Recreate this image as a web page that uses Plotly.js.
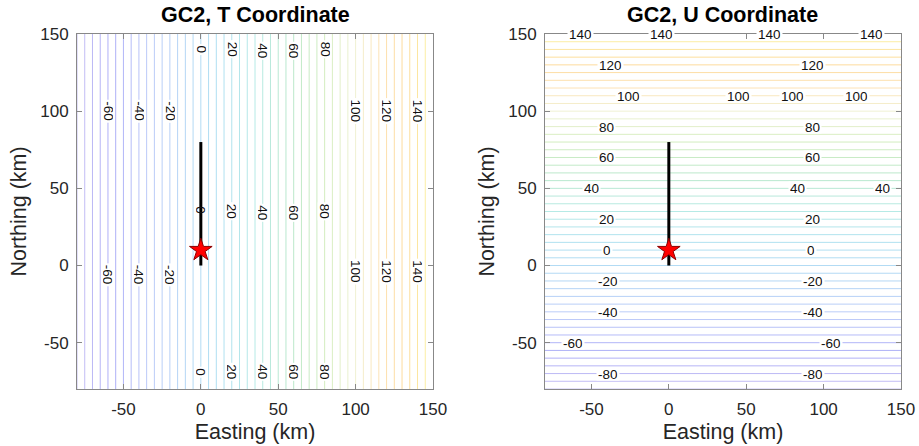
<!DOCTYPE html>
<html>
<head>
<meta charset="utf-8">
<script src="https://cdn.plot.ly/plotly-3.0.1.min.js"></script>
<style>html,body{margin:0;padding:0;background:#fff;} #chart{width:919px;height:446px;}</style>
</head>
<body>
<div id="chart"></div>
<script>
// ---- data ----
const gridEasting = [-80, 150];
const gridNorthing = [-80, 150];
// GC2 T coordinate (equals easting for this N-S trace)
const tCoordinate = [[-80, 150], [-80, 150]];
// GC2 U coordinate (northing measured from the hypocentre at 10 km)
const uCoordinate = [[-90, -90], [140, 140]];
const tLevelRange = [-80, 150, 5];
const uLevelRange = [-90, 140, 5];

const ruptureEasting = [0, 0];
const ruptureNorthing = [0, 80];
const hypoEasting = [0];
const hypoNorthing = [10];

// contour labels
const tLabelText     = [0, 20, 40, 60, 80, -60, -40, -20, 100, 120, 140, 0, 20, 40, 60, 80, -60, -40, -20, 100, 120, 140, 0, 20, 40, 60, 80];
const tLabelNorthing = [140, 140, 139, 139, 140, 100, 100, 100, 100, 100, 100, 36, 35, 34, 34, 35, -6, -6, -6, -4, -4, -4, -69, -69, -69, -69, -69];

const uLabelText    = [140, 140, 140, 140, 120, 120, 100, 100, 100, 100, 80, 80, 60, 60, 40, 40, 40, 20, 20, 0, 0, -20, -20, -40, -40, -60, -60, -80, -80];
const uLabelEasting = [-57, -5, 65, 131, -38, 93, -26, 45, 80, 121, -40, 93, -40, 93, -50, 83, 138, -40, 93, -40, 92, -39, 93, -39, 93, -62, 105, -39, 93];

const xTicks = [-50, 0, 50, 100, 150];
const xTickText = ['-50', '0', '50', '100', '150'];
const yTicks = [-50, 0, 50, 100, 150];
const yTickText = ['-50', '0', '50', '100', '150'];

// parula-like colormap as it appears (thin, pale lines)
const paleParula = [
  [0.0, '#c8c2f4'], [0.1, '#adadf7'], [0.2, '#bccaf9'], [0.3, '#b4d6f5'],
  [0.4, '#b0e0f2'], [0.5, '#b6eae6'], [0.6, '#bae8cc'], [0.7, '#d4edbe'],
  [0.78, '#f0f2d4'], [0.85, '#fde3b4'], [0.92, '#fdda9a'], [1.0, '#fbf5a8']
];

const FONT = 'Liberation Sans, Arial, Helvetica, sans-serif';
const TXT = '#262626';

function contourTrace(z, lv, xa, ya) {
  return {
    type: 'contour', x: gridEasting, y: gridNorthing, z: z,
    xaxis: xa, yaxis: ya,
    zmin: lv[0], zmax: lv[1], autocontour: false,
    contours: {start: lv[0], end: lv[1], size: lv[2], coloring: 'lines', showlabels: false},
    colorscale: paleParula, showscale: false,
    line: {width: 1, smoothing: 0}, hoverinfo: 'skip'
  };
}
function rupture(xa, ya) {
  return {type: 'scatter', mode: 'lines', x: ruptureEasting, y: ruptureNorthing, xaxis: xa, yaxis: ya,
    line: {color: '#000', width: 3}, showlegend: false, hoverinfo: 'skip'};
}
function hypo(xa, ya) {
  return {type: 'scatter', mode: 'markers', x: hypoEasting, y: hypoNorthing, xaxis: xa, yaxis: ya,
    marker: {symbol: 'star', size: 17, color: '#ff0000', line: {color: '#8b0000', width: 1}},
    showlegend: false, hoverinfo: 'skip'};
}

const data = [
  contourTrace(tCoordinate, tLevelRange, 'x', 'y'),
  contourTrace(uCoordinate, uLevelRange, 'x2', 'y2'),
  rupture('x', 'y'), hypo('x', 'y'),
  rupture('x2', 'y2'), hypo('x2', 'y2')
];

const annotations = [];
tLabelText.forEach((t, i) => {
  const onRupture = t === ruptureEasting[0] && tLabelNorthing[i] >= ruptureNorthing[0] && tLabelNorthing[i] <= ruptureNorthing[1];
  annotations.push({xref: 'x', yref: 'y', x: t, y: tLabelNorthing[i], text: String(t),
    showarrow: false, textangle: 90, bgcolor: onRupture ? 'rgba(0,0,0,0)' : '#fff', borderpad: 1, height: 10,
    font: {family: FONT, size: 13.5, color: '#111'}});
});
uLabelText.forEach((t, i) => {
  annotations.push({xref: 'x2', yref: 'y2', x: uLabelEasting[i], y: t + hypoNorthing[0], text: String(t),
    showarrow: false, bgcolor: '#fff', borderpad: 1, height: 10,
    font: {family: FONT, size: 13.5, color: '#111'}});
});
[['x', 'GC2, T Coordinate'], ['x2', 'GC2, U Coordinate']].forEach(([xa, txt]) => {
  annotations.push({xref: xa + ' domain', yref: 'paper', x: 0.5, y: 1, yanchor: 'bottom', yshift: 5,
    text: '<b>' + txt + '</b>', showarrow: false, font: {family: FONT, size: 21.5, color: '#000'}});
});

function xAxis(dom, anchor) {
  return {domain: dom, anchor: anchor, range: [-80, 150], tickvals: xTicks, ticktext: xTickText, ticks: 'inside', ticklen: 5,
    tickcolor: '#888', linecolor: '#888', linewidth: 1, mirror: 'allticks', showgrid: false, zeroline: false,
    tickfont: {family: FONT, size: 17, color: TXT}, ticklabelstandoff: 5,
    title: {text: 'Easting (km)', font: {family: FONT, size: 21.5, color: TXT}, standoff: 5}};
}
function yAxis(anchor) {
  return {domain: [0, 1], anchor: anchor, range: [-80, 150], tickvals: yTicks, ticktext: yTickText, ticks: 'inside', ticklen: 5,
    tickcolor: '#888', linecolor: '#888', linewidth: 1, mirror: 'allticks', showgrid: false, zeroline: false,
    tickfont: {family: FONT, size: 17, color: TXT}, ticklabelstandoff: 4,
    title: {text: 'Northing (km)', font: {family: FONT, size: 21.5, color: TXT}, standoff: 7}};
}

const layout = {
  width: 919, height: 446,
  margin: {l: 77, r: 18, t: 34, b: 57},
  paper_bgcolor: '#fff', plot_bgcolor: '#fff',
  showlegend: false,
  xaxis: xAxis([0, 0.43204], 'y'),
  yaxis: yAxis('x'),
  xaxis2: xAxis([0.56796, 1], 'y2'),
  yaxis2: yAxis('x2'),
  annotations: annotations
};

Plotly.newPlot('chart', data, layout, {displayModeBar: false, staticPlot: true});
</script>
</body>
</html>
